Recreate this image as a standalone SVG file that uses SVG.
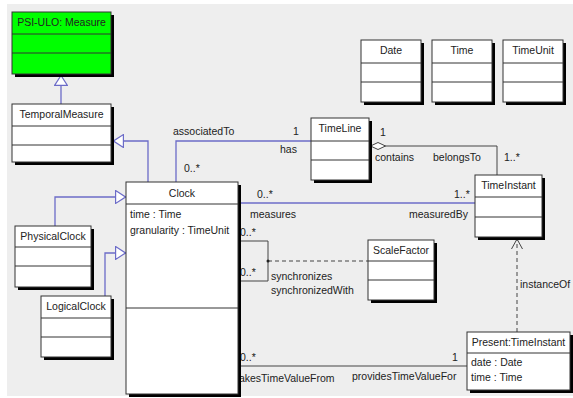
<svg xmlns="http://www.w3.org/2000/svg" width="573" height="398" viewBox="0 0 573 398">
  <style>
    text { font-family: "Liberation Sans", Arial, sans-serif; font-size: 10.5px; fill: #222; }
    .c { text-anchor: middle; }
    .shadow { fill: #000; }
    .box { fill: #fff; stroke: #333; stroke-width: 1; }
    .green { fill: #00ff00; }
    .sep { stroke: #333; stroke-width: 1; }
    .gen { fill: none; stroke: #6c6cc8; stroke-width: 1.3; }
    .assoc { fill: none; stroke: #444; stroke-width: 1; }
    .dash { fill: none; stroke: #444; stroke-width: 1; stroke-dasharray: 4 3; }
  </style>
  <defs>
    <marker id="tri" viewBox="0 0 11 14" refX="11" refY="7" markerWidth="11" markerHeight="14" markerUnits="userSpaceOnUse" orient="auto">
      <path d="M0.6,0.6 L10.5,7 L0.6,13.4 Z" fill="#fff" stroke="#6c6cc8" stroke-width="1.2"/>
    </marker>
    <marker id="diamond" viewBox="0 0 16 8" refX="16" refY="4" markerWidth="16" markerHeight="8" markerUnits="userSpaceOnUse" orient="auto">
      <path d="M0.5,4 L8,0.5 L15.5,4 L8,7.5 Z" fill="#fff" stroke="#444" stroke-width="1"/>
    </marker>
    <marker id="open" viewBox="0 0 10 12" refX="10" refY="6" markerWidth="10" markerHeight="12" markerUnits="userSpaceOnUse" orient="auto">
      <path d="M0,0.5 L10,6 L0,11.5" fill="none" stroke="#444" stroke-width="1"/>
    </marker>
  </defs>

  <!-- canvas -->
  <rect x="0" y="0" width="573" height="398" fill="#fff"/>
  <rect x="7" y="4" width="566" height="392" fill="#eeeeee"/>

  <!-- connectors -->
  <g id="connectors">
    <!-- generalizations -->
    <path class="gen" d="M61,104 V75" marker-end="url(#tri)"/>
    <path class="gen" d="M148,182 V141 H113" marker-end="url(#tri)"/>
    <path class="gen" d="M55,226 V197 H126" marker-end="url(#tri)"/>
    <path class="gen" d="M105,296 V253 H126" marker-end="url(#tri)"/>
    <!-- associatedTo / has -->
    <path class="gen" d="M176,182 V141 H312"/>
    <!-- measures / measuredBy -->
    <path class="gen" d="M238,203 H475"/>
    <!-- contains / belongsTo -->
    <path class="assoc" d="M497,175 V146 H370" marker-end="url(#diamond)"/>
    <!-- synchronizes self association -->
    <path class="assoc" d="M238,241 H268 V281 H238"/>
    <path class="dash" d="M268,261 H368"/>
    <circle cx="268" cy="261" r="1.5" fill="#222"/>
    <!-- instanceOf -->
    <path class="dash" d="M517,332 V239" marker-end="url(#open)"/>
    <!-- takesTimeValueFrom / providesTimeValueFor -->
    <path class="assoc" d="M238,366 H467"/>

    <text x="173" y="135">associatedTo</text>
    <text x="293" y="135">1</text>
    <text x="280" y="153">has</text>
    <text x="184" y="172">0..*</text>
    <text x="257" y="198">0..*</text>
    <text x="454" y="198">1..*</text>
    <text x="250" y="218">measures</text>
    <text x="409" y="218">measuredBy</text>
    <text x="380" y="136">1</text>
    <text x="375" y="161">contains</text>
    <text x="433" y="161">belongsTo</text>
    <text x="504" y="161">1..*</text>
    <text x="240" y="236">0..*</text>
    <text x="240" y="276">0..*</text>
    <text x="271" y="280">synchronizes</text>
    <text x="271" y="294">synchronizedWith</text>
    <text x="520" y="288">instanceOf</text>
    <text x="240" y="361">0..*</text>
    <text x="452" y="361">1</text>
    <text x="236" y="382">takesTimeValueFrom</text>
    <text x="352" y="380">providesTimeValueFor</text>
  </g>

  <!-- classes -->
  <g id="measure">
    <rect class="shadow" x="15" y="15" width="99" height="62"/>
    <rect class="box green" x="12" y="12" width="99" height="62"/>
    <line class="sep" x1="12" y1="34" x2="111" y2="34"/>
    <line class="sep" x1="12" y1="53" x2="111" y2="53"/>
    <text class="c" x="61.5" y="26">PSI-ULO: Measure</text>
  </g>

  <g id="temporal-measure">
    <rect class="shadow" x="15" y="107" width="99" height="58"/>
    <rect class="box" x="12" y="104" width="99" height="58"/>
    <line class="sep" x1="12" y1="126" x2="111" y2="126"/>
    <line class="sep" x1="12" y1="145" x2="111" y2="145"/>
    <text class="c" x="61.5" y="118">TemporalMeasure</text>
  </g>

  <g id="date">
    <rect class="shadow" x="364" y="43" width="60" height="62"/>
    <rect class="box" x="361" y="40" width="60" height="62"/>
    <line class="sep" x1="361" y1="63" x2="421" y2="63"/>
    <line class="sep" x1="361" y1="82" x2="421" y2="82"/>
    <text class="c" x="391" y="54">Date</text>
  </g>

  <g id="time">
    <rect class="shadow" x="435" y="43" width="60" height="62"/>
    <rect class="box" x="432" y="40" width="60" height="62"/>
    <line class="sep" x1="432" y1="63" x2="492" y2="63"/>
    <line class="sep" x1="432" y1="82" x2="492" y2="82"/>
    <text class="c" x="462" y="54">Time</text>
  </g>

  <g id="time-unit">
    <rect class="shadow" x="506" y="43" width="60" height="62"/>
    <rect class="box" x="503" y="40" width="60" height="62"/>
    <line class="sep" x1="503" y1="63" x2="563" y2="63"/>
    <line class="sep" x1="503" y1="82" x2="563" y2="82"/>
    <text class="c" x="533" y="54">TimeUnit</text>
  </g>

  <g id="time-line">
    <rect class="shadow" x="314" y="121" width="58" height="62"/>
    <rect class="box" x="311" y="118" width="58" height="62"/>
    <line class="sep" x1="311" y1="141" x2="369" y2="141"/>
    <line class="sep" x1="311" y1="160" x2="369" y2="160"/>
    <text class="c" x="340" y="132">TimeLine</text>
  </g>

  <g id="time-instant">
    <rect class="shadow" x="478" y="178" width="67" height="62"/>
    <rect class="box" x="475" y="175" width="67" height="62"/>
    <line class="sep" x1="475" y1="197" x2="542" y2="197"/>
    <line class="sep" x1="475" y1="217" x2="542" y2="217"/>
    <text class="c" x="508.5" y="189">TimeInstant</text>
  </g>

  <g id="clock">
    <rect class="shadow" x="129" y="185" width="112" height="212"/>
    <rect class="box" x="126" y="182" width="112" height="212"/>
    <line class="sep" x1="126" y1="204" x2="238" y2="204"/>
    <line class="sep" x1="126" y1="308" x2="238" y2="308"/>
    <text class="c" x="182" y="197">Clock</text>
    <text x="130" y="218">time : Time</text>
    <text x="130" y="234">granularity : TimeUnit</text>
  </g>

  <g id="physical-clock">
    <rect class="shadow" x="18" y="229" width="76" height="61"/>
    <rect class="box" x="15" y="226" width="76" height="61"/>
    <line class="sep" x1="15" y1="247" x2="91" y2="247"/>
    <line class="sep" x1="15" y1="266" x2="91" y2="266"/>
    <text class="c" x="53" y="240">PhysicalClock</text>
  </g>

  <g id="logical-clock">
    <rect class="shadow" x="44" y="299" width="70" height="61"/>
    <rect class="box" x="41" y="296" width="70" height="61"/>
    <line class="sep" x1="41" y1="318" x2="111" y2="318"/>
    <line class="sep" x1="41" y1="337" x2="111" y2="337"/>
    <text class="c" x="76" y="310">LogicalClock</text>
  </g>

  <g id="scale-factor">
    <rect class="shadow" x="371" y="243" width="66" height="60"/>
    <rect class="box" x="368" y="240" width="66" height="60"/>
    <line class="sep" x1="368" y1="261" x2="434" y2="261"/>
    <line class="sep" x1="368" y1="280" x2="434" y2="280"/>
    <text class="c" x="401" y="254">ScaleFactor</text>
  </g>

  <g id="present">
    <rect class="shadow" x="470" y="335" width="103" height="58"/>
    <rect class="box" x="467" y="332" width="103" height="58"/>
    <line class="sep" x1="467" y1="353" x2="570" y2="353"/>
    <text class="c" x="518.5" y="346">Present:TimeInstant</text>
    <text x="471" y="366">date : Date</text>
    <text x="471" y="381">time : Time</text>
  </g>
</svg>
